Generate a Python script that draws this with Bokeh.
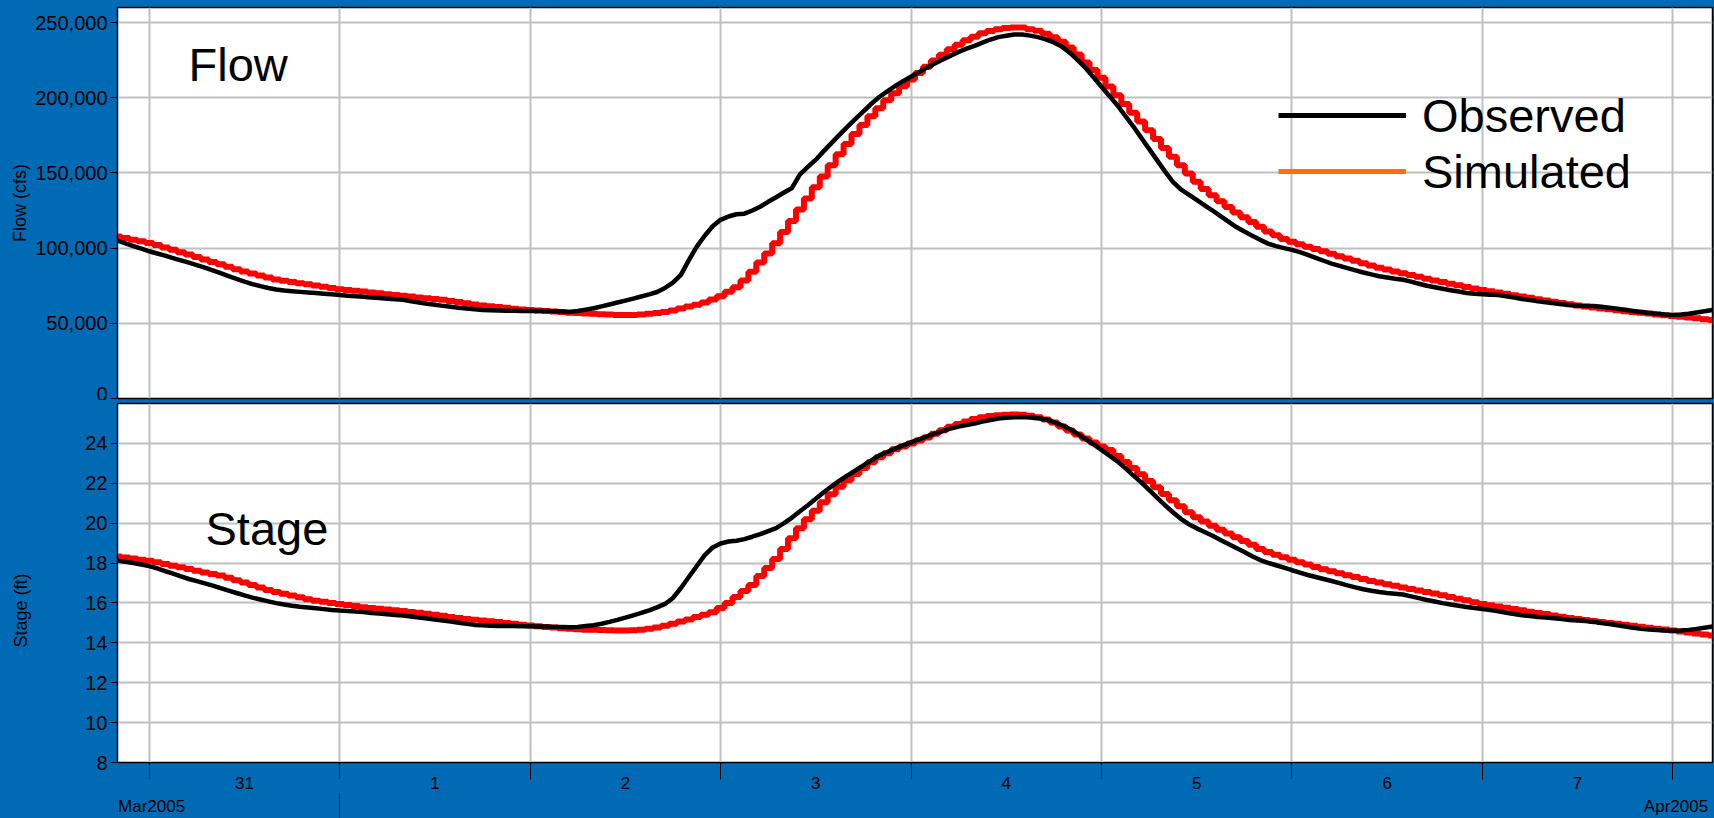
import pandas as pd
from bokeh.plotting import figure
from bokeh.models import (Range1d, FixedTicker, NumeralTickFormatter, Label, Legend,
                          LegendItem, DatetimeAxis, GlobalInlineStyleSheet)
from bokeh.layouts import column
from bokeh.embed import file_html
from bokeh.resources import INLINE

BLUE = "#006BB4"
FONT = "Liberation Sans"

# ---------------- data, hourly from 2005-03-30 20:00 ----------------
obs_flow = [105000, 103200, 101400, 99700, 97900, 96400, 95000, 93400, 91900, 90300,
            88700, 87000, 85200, 83300, 81400, 79600, 77700, 76100, 74700, 73500,
            72500, 71800, 71300, 70900, 70500, 70100, 69700, 69300, 68900, 68400,
            68000, 67600, 67200, 66800, 66400, 66000, 65600, 64700, 63800, 63000,
            62300, 61600, 61000, 60400, 59800, 59300, 58900, 58700, 58500, 58400,
            58300, 58200, 58200, 58200, 58200, 58000, 57800, 57600, 58200, 59100,
            60000, 61300, 62500, 63800, 65100, 66400, 67800, 69200, 70800, 73500,
            77000, 82200, 92000, 101000, 108200, 114500, 118800, 121000, 122500, 122900,
            125000, 127500, 130800, 133800, 137000, 140000, 149000, 154000, 158800, 164500,
            170000, 175500, 180800, 186000, 191000, 196000, 200500, 204200, 207800, 211000,
            214000, 217000, 220000, 222800, 225500, 228000, 230500, 232700, 234500, 236600,
            238700, 240300, 241200, 242000, 242000, 241300, 240300, 238800, 236800, 234000,
            230000, 225000, 219800, 213500, 207300, 201200, 195000, 188000, 181000, 173500,
            166000, 158500, 151000, 144000, 139000, 135500, 132000, 128500, 125000, 121300,
            117600, 114000, 111000, 108300, 105500, 103000, 101300, 100000, 98800, 97300,
            95500, 93500, 91600, 89700, 88200, 86700, 85200, 83800, 82500, 81300,
            80400, 79600, 79000, 77700, 76300, 75000, 74000, 73000, 72000, 71100,
            70200, 69600, 69300, 69000, 68800, 68000, 67100, 66200, 65400, 64700,
            64000, 63300, 62700, 62100, 61700, 61500, 61500, 61000, 60400, 59700,
            59000, 58200, 57500, 56900, 56300, 55800, 55600, 55900, 56400, 57200,
            58000, 58900]
obs_stage = [18.12, 18.06, 18.0, 17.93, 17.85, 17.73, 17.6, 17.47, 17.33, 17.2,
             17.09, 16.98, 16.87, 16.74, 16.62, 16.5, 16.38, 16.27, 16.17, 16.08,
             15.99, 15.92, 15.86, 15.81, 15.77, 15.73, 15.69, 15.65, 15.62, 15.6,
             15.57, 15.54, 15.5, 15.47, 15.43, 15.4, 15.37, 15.32, 15.27, 15.22,
             15.17, 15.12, 15.07, 15.01, 14.95, 14.9, 14.88, 14.86, 14.85, 14.84,
             14.84, 14.83, 14.83, 14.82, 14.82, 14.8, 14.79, 14.78, 14.8, 14.84,
             14.88, 14.96, 15.05, 15.15, 15.26, 15.38, 15.5, 15.63, 15.78, 15.95,
             16.25, 16.75, 17.3, 17.85, 18.4, 18.78, 18.98, 19.08, 19.12, 19.2,
             19.32, 19.45, 19.6, 19.75, 20.0, 20.28, 20.6, 20.9, 21.22, 21.55,
             21.85, 22.13, 22.4, 22.65, 22.9, 23.15, 23.4, 23.57, 23.74, 23.9,
             24.05, 24.2, 24.35, 24.49, 24.62, 24.75, 24.84, 24.92, 25.0, 25.09,
             25.17, 25.25, 25.28, 25.31, 25.32, 25.3, 25.26, 25.2, 25.07, 24.91,
             24.72, 24.48, 24.22, 23.95, 23.67, 23.39, 23.1, 22.76, 22.4, 22.05,
             21.67, 21.28, 20.9, 20.55, 20.22, 19.95, 19.74, 19.56, 19.37, 19.16,
             18.95, 18.75, 18.55, 18.34, 18.15, 18.01, 17.89, 17.77, 17.64, 17.52,
             17.4, 17.3, 17.2, 17.1, 16.99, 16.88, 16.78, 16.69, 16.61, 16.55,
             16.5, 16.46, 16.42, 16.33, 16.24, 16.15, 16.07, 15.99, 15.92, 15.86,
             15.8, 15.75, 15.7, 15.64, 15.58, 15.51, 15.45, 15.38, 15.34, 15.3,
             15.27, 15.23, 15.19, 15.15, 15.12, 15.09, 15.05, 14.99, 14.94, 14.88,
             14.82, 14.76, 14.7, 14.67, 14.64, 14.62, 14.61, 14.62, 14.65, 14.7,
             14.76, 14.82]
sim_flow = [107800, 106700, 105600, 104500, 103400, 102000, 100400, 98900, 97300, 95800,
            94100, 92400, 90800, 89200, 87600, 86000, 84400, 83100, 81800, 80500,
            79200, 78300, 77500, 76700, 75900, 75100, 74300, 73500, 72700, 72200,
            71600, 71100, 70500, 70000, 69400, 68900, 68300, 67800, 67200, 66700,
            66200, 65600, 64900, 64100, 63300, 62500, 61900, 61300, 60800, 60300,
            59700, 59200, 58800, 58500, 58200, 57800, 57500, 57100, 56900, 56600,
            56400, 56100, 55900, 55600, 55500, 55600, 55900, 56300, 56800, 57500,
            58500, 59800, 61200, 62400, 63900, 65800, 68000, 71000, 74000, 78500,
            84300, 90400, 96500, 103300, 110700, 118100, 125600, 133000, 140400, 147700,
            155100, 162500, 169300, 175900, 181900, 187700, 193000, 198400, 203000, 207600,
            212200, 216400, 220600, 224800, 228500, 232200, 235300, 238200, 240500, 242900,
            244300, 245600, 246300, 246700, 246700, 245600, 244500, 242500, 240200, 237200,
            233400, 228700, 223500, 218400, 213300, 207500, 201700, 195800, 190000, 184200,
            178400, 172500, 166600, 160800, 155100, 149600, 144200, 139300, 135100, 131100,
            127300, 123700, 120500, 117300, 114200, 111100, 108600, 106100, 104300, 102500,
            100900, 99400, 97900, 96200, 94600, 93100, 91600, 90000, 88500, 87000,
            85700, 84500, 83300, 82100, 80900, 79700, 78500, 77400, 76300, 75300,
            74200, 73200, 72100, 71300, 70500, 69600, 68700, 67800, 67000, 66000,
            65200, 64300, 63500, 62700, 61800, 61100, 60500, 59900, 59300, 58700,
            58100, 57600, 57000, 56500, 55900, 55400, 54800, 54300, 53800, 53300,
            52700, 52200]
sim_stage = [18.33, 18.28, 18.23, 18.17, 18.12, 18.04, 17.95, 17.87, 17.79, 17.70,
             17.62, 17.53, 17.45, 17.38, 17.26, 17.14, 17.02, 16.90, 16.78, 16.65,
             16.55, 16.46, 16.37, 16.28, 16.18, 16.11, 16.06, 16.00, 15.95, 15.90,
             15.85, 15.79, 15.75, 15.71, 15.67, 15.63, 15.59, 15.55, 15.51, 15.46,
             15.41, 15.36, 15.30, 15.25, 15.20, 15.16, 15.12, 15.08, 15.04, 15.00,
             14.96, 14.91, 14.87, 14.83, 14.80, 14.77, 14.73, 14.70, 14.68, 14.66,
             14.65, 14.64, 14.63, 14.62, 14.62, 14.63, 14.66, 14.70, 14.77, 14.86,
             14.96, 15.07, 15.17, 15.29, 15.41, 15.53, 15.75, 16.00, 16.30, 16.60,
             16.90, 17.35, 17.75, 18.20, 18.70, 19.25, 19.75, 20.20, 20.62, 21.05,
             21.45, 21.83, 22.15, 22.47, 22.77, 23.05, 23.30, 23.50, 23.70, 23.85,
             24.00, 24.15, 24.30, 24.48, 24.66, 24.83, 24.97, 25.10, 25.22, 25.31,
             25.37, 25.41, 25.44, 25.45, 25.43, 25.39, 25.31, 25.20, 25.05, 24.85,
             24.65, 24.45, 24.25, 24.05, 23.85, 23.67, 23.37, 23.07, 22.77, 22.45,
             22.12, 21.80, 21.46, 21.15, 20.85, 20.55, 20.30, 20.08, 19.87, 19.67,
             19.48, 19.29, 19.10, 18.92, 18.70, 18.55, 18.42, 18.29, 18.16, 18.04,
             17.93, 17.80, 17.69, 17.59, 17.49, 17.39, 17.30, 17.20, 17.10, 17.02,
             16.94, 16.86, 16.78, 16.70, 16.63, 16.55, 16.47, 16.38, 16.30, 16.21,
             16.13, 16.04, 15.95, 15.89, 15.82, 15.76, 15.70, 15.63, 15.56, 15.50,
             15.44, 15.37, 15.31, 15.24, 15.19, 15.14, 15.10, 15.05, 15.00, 14.96,
             14.91, 14.86, 14.81, 14.76, 14.71, 14.67, 14.62, 14.57, 14.52, 14.47,
             14.42, 14.37]

day_labels = ["31", "1", "2", "3", "4", "5", "6", "7"]
month_labels = ["Mar2005", "Apr2005"]
flow_ticks = [0, 50000, 100000, 150000, 200000, 250000]
stage_ticks = [8, 10, 12, 14, 16, 18, 20, 22, 24]
series_names = ["Observed", "Simulated"]
y_titles = ["Flow (cfs)", "Stage (ft)"]
panel_titles = ["Flow", "Stage"]

start = pd.Timestamp("2005-03-30 20:00")
end = pd.Timestamp("2005-04-08 05:00")
times = pd.date_range(start, periods=len(sim_flow), freq="h")


def ms(ts):
    return int(pd.Timestamp(ts).value // 10**6)


HOUR = 3600 * 1000
midnights = [ms(t) for t in pd.date_range("2005-03-31", "2005-04-08", freq="D")]
noons = [ms(t) for t in pd.date_range("2005-03-31 12:00", periods=len(day_labels), freq="D")]
apr1 = ms("2005-04-01")

x_range = Range1d(ms(start), ms(end))
FRAME_W = 1595


def make_fig(frame_h, y_range, mbt, mbb, with_xaxis):
    p = figure(frame_width=FRAME_W, frame_height=frame_h, x_axis_type="datetime",
               x_range=x_range, y_range=y_range,
               x_axis_location="below" if with_xaxis else None,
               toolbar_location=None, output_backend="svg",
               min_border_left=117, min_border_right=2, min_border_top=mbt,
               min_border_bottom=mbb, background_fill_color="white",
               border_fill_color=BLUE, outline_line_color="black", outline_line_width=1.5)
    p.xgrid.ticker = FixedTicker(ticks=midnights)
    for g in (p.xgrid, p.ygrid):
        g.grid_line_color = "#C0C0C0"
        g.grid_line_width = 2
    ya = p.yaxis[0]
    ya.major_tick_out = 7
    ya.major_tick_in = 0
    ya.minor_tick_line_color = None
    ya.axis_line_color = "black"
    ya.major_tick_line_color = "black"
    ya.major_label_text_font = FONT
    ya.major_label_text_font_size = "20px"
    ya.major_label_text_color = "black"
    ya.major_label_standoff = 3
    ya.axis_label_text_font = FONT
    ya.axis_label_text_font_size = "18px"
    ya.axis_label_text_font_style = "normal"
    ya.axis_label_text_color = "black"
    return p


# ---------------- Flow ----------------
p1 = make_fig(391, Range1d(0, 260000), 7, 2, False)
p1.yaxis[0].ticker = FixedTicker(ticks=flow_ticks)
p1.yaxis[0].formatter = NumeralTickFormatter(format="0,0")
p1.yaxis[0].axis_label = y_titles[0]
p1.yaxis[0].axis_label_standoff = 2
p1.step(times, sim_flow, mode="center", line_color="#FF0000", line_width=6)
p1.line(times, obs_flow, line_color="black", line_width=4.5, line_join="round")

nan = float("nan")
leg_obs = p1.line(x=[ms(start), ms(start)], y=[nan, nan], line_color="black", line_width=5)
leg_sim = p1.line(x=[ms(start), ms(start)], y=[nan, nan], line_color="#FF6F0F", line_width=5)
legend = Legend(items=[LegendItem(label=series_names[0], renderers=[leg_obs]),
                       LegendItem(label=series_names[1], renderers=[leg_sim])],
                location=(1161, 199), orientation="vertical",
                label_text_font=FONT, label_text_font_size="47px", label_text_color="black",
                glyph_width=128, glyph_height=56, label_height=56, label_standoff=16,
                spacing=0, padding=0, margin=0, border_line_color=None,
                background_fill_alpha=0)
p1.add_layout(legend)
p1.add_layout(Label(x=71, y=334, x_units="screen", y_units="screen", text=panel_titles[0],
                    text_font=FONT, text_font_size="47px", text_color="black",
                    text_baseline="alphabetic", text_align="left"))

# ---------------- Stage ----------------
p2 = make_fig(359, Range1d(8, 26), 3, 56, True)
p2.yaxis[0].ticker = FixedTicker(ticks=stage_ticks)
# the stage title sits lower than centre in the original: pad its far end
p2.yaxis[0].axis_label = y_titles[1] + "\u00a0" * 11
p2.yaxis[0].axis_label_standoff = 51
p2.step(times, sim_stage, mode="center", line_color="#FF0000", line_width=6)
p2.line(times, obs_stage, line_color="black", line_width=4.5, line_join="round")

xa = p2.xaxis[0]
xa.ticker = FixedTicker(ticks=noons, minor_ticks=midnights)
xa.major_tick_out = 0
xa.major_tick_in = 0
xa.minor_tick_out = 17
xa.minor_tick_in = 0
xa.minor_tick_line_color = "black"
xa.axis_line_color = "black"
xa.major_label_overrides = {n: lab for n, lab in zip(noons, day_labels)}
xa.major_label_standoff = -3
xa.major_label_text_font = FONT
xa.major_label_text_font_size = "17px"
xa.major_label_text_color = "black"

# second row: month labels and the month separator tick
mar_pos = ms(start) + int(4.3 * HOUR)
apr_pos = ms(start) + int(196.4 * HOUR)
xa2 = DatetimeAxis(ticker=FixedTicker(ticks=[mar_pos, apr_pos], minor_ticks=[apr1]),
                   major_tick_out=0, major_tick_in=0, minor_tick_out=30, minor_tick_in=-2,
                   minor_tick_line_color="black", major_tick_line_color=None,
                   axis_line_color=None,
                   major_label_overrides={mar_pos: month_labels[0], apr_pos: month_labels[1]},
                   major_label_standoff=-25, major_label_text_font=FONT,
                   major_label_text_font_size="17px", major_label_text_color="black")
p2.add_layout(xa2, "below")

p2.add_layout(Label(x=88, y=234, x_units="screen", y_units="screen", text=panel_titles[1],
                    text_font=FONT, text_font_size="47px", text_color="black",
                    text_baseline="alphabetic", text_align="left"))

css = f"html, body {{ margin: 0; padding: 0; background-color: {BLUE}; overflow: hidden; }}"
layout = column(p1, p2, spacing=0, stylesheets=[GlobalInlineStyleSheet(css=css)])

open("out.html", "w").write(file_html(layout, INLINE))
